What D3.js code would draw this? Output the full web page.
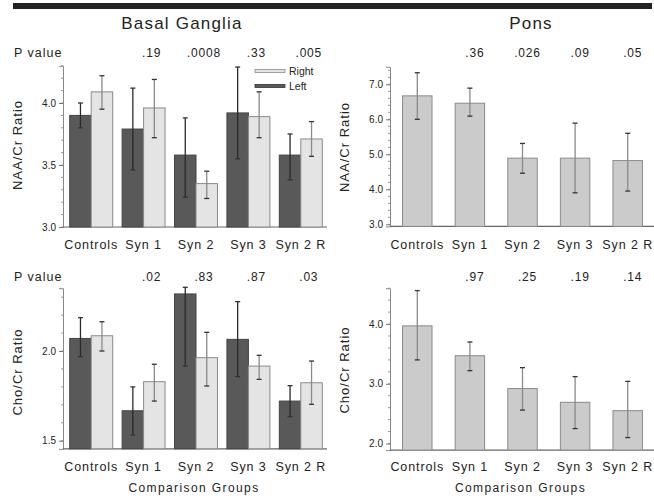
<!DOCTYPE html>
<html>
<head>
<meta charset="utf-8">
<script src="https://cdn.jsdelivr.net/npm/d3@7"></script>
<style>
  body { margin: 0; background: #fff; }
  svg text { font-family: "Liberation Sans", Arial, sans-serif; fill: #222; }
</style>
</head>
<body>
<div id="chart"></div>
<script>

var groups = ['Controls', 'Syn 1', 'Syn 2', 'Syn 3', 'Syn 2 R'];
var sides = ['Left', 'Right'];

// basal ganglia NAA/Cr  (left, right) with error ranges
var bgNaaLeft    = [3.90, 3.79, 3.58, 3.92, 3.58];
var bgNaaLeftLo  = [3.80, 3.46, 3.24, 3.55, 3.38];
var bgNaaLeftHi  = [4.00, 4.12, 3.88, 4.29, 3.75];
var bgNaaRight   = [4.09, 3.96, 3.35, 3.89, 3.71];
var bgNaaRightLo = [3.95, 3.72, 3.23, 3.72, 3.57];
var bgNaaRightHi = [4.22, 4.19, 3.45, 4.09, 3.85];
var bgNaaP = ['', '.19', '.0008', '.33', '.005'];

// basal ganglia Cho/Cr
var bgChoLeft    = [2.07, 1.667, 2.318, 2.065, 1.721];
var bgChoLeftLo  = [1.968, 1.532, 1.916, 1.857, 1.634];
var bgChoLeftHi  = [2.186, 1.80, 2.355, 2.275, 1.807];
var bgChoRight   = [2.085, 1.829, 1.963, 1.916, 1.823];
var bgChoRightLo = [2.00, 1.721, 1.805, 1.842, 1.703];
var bgChoRightHi = [2.163, 1.926, 2.104, 1.976, 1.944];
var bgChoP = ['', '.02', '.83', '.87', '.03'];

// pons NAA/Cr
var ponsNaa   = [6.67, 6.46, 4.89, 4.89, 4.82];
var ponsNaaLo = [6.00, 6.09, 4.46, 3.90, 3.95];
var ponsNaaHi = [7.33, 6.89, 5.31, 5.89, 5.60];
var ponsNaaP = ['', '.36', '.026', '.09', '.05'];

// pons Cho/Cr
var ponsCho   = [3.97, 3.47, 2.92, 2.69, 2.55];
var ponsChoLo = [3.40, 3.22, 2.56, 2.25, 2.10];
var ponsChoHi = [4.56, 3.70, 3.27, 3.12, 3.04];
var ponsChoP = ['', '.97', '.25', '.19', '.14'];

var bgNaaTicks = [3.0, 3.5, 4.0];
var bgChoTicks = [1.5, 2.0];
var ponsNaaTicks = [3.0, 4.0, 5.0, 6.0, 7.0];
var ponsChoTicks = [2.0, 3.0, 4.0];

var W = 654, H = 496;
var darkFill = '#595959', lightFill = '#e4e4e4', ponsFill = '#cbcbcb';

var svg = d3.select('#chart').append('svg')
    .attr('width', W).attr('height', H);

svg.append('rect').attr('x', 13).attr('y', 3).attr('width', 639).attr('height', 6)
    .attr('fill', '#222');

svg.append('text').attr('x', 182).attr('y', 29).attr('text-anchor', 'middle')
    .style('font-size', '17px').style('letter-spacing', '1.2px').text('Basal Ganglia');
svg.append('text').attr('x', 531).attr('y', 29).attr('text-anchor', 'middle')
    .style('font-size', '17px').style('letter-spacing', '1.2px').text('Pons');

function rows(vals, lo, hi) {
    return vals.map(function(v, i) { return {g: groups[i], v: v, lo: lo[i], hi: hi[i]}; });
}

var panels = [
  {axisX: 63, xr: [65, 327], dom: [3.0, 4.3], yr: [227, 65.8], ticks: bgNaaTicks, minor: 0.1,
   label: 'NAA/Cr Ratio', labelY: 145, pvals: bgNaaP, pY: 57, pOff: 8, showP: true,
   series: [rows(bgNaaLeft, bgNaaLeftLo, bgNaaLeftHi), rows(bgNaaRight, bgNaaRightLo, bgNaaRightHi)],
   xlabY: 249, legend: true},
  {axisX: 390, xr: [391, 654], dom: [2.94, 7.5], yr: [226.4, 66.8], ticks: ponsNaaTicks, minor: 0.2,
   label: 'NAA/Cr Ratio', labelY: 147, pvals: ponsNaaP, pY: 57, pOff: 5, showP: false,
   series: [rows(ponsNaa, ponsNaaLo, ponsNaaHi)], xlabY: 249},
  {axisX: 63, xr: [65, 327], dom: [1.455, 2.35], yr: [448.8, 288.2], ticks: bgChoTicks, minor: 0.1,
   label: 'Cho/Cr Ratio', labelY: 372, pvals: bgChoP, pY: 281, pOff: 8, showP: true,
   series: [rows(bgChoLeft, bgChoLeftLo, bgChoLeftHi), rows(bgChoRight, bgChoRightLo, bgChoRightHi)],
   xlabY: 471, xtitle: true},
  {axisX: 390, xr: [391, 654], dom: [1.89, 4.6], yr: [450.1, 288.2], ticks: ponsChoTicks, minor: 0.2,
   label: 'Cho/Cr Ratio', labelY: 370, pvals: ponsChoP, pY: 281, pOff: 5, showP: false,
   series: [rows(ponsCho, ponsChoLo, ponsChoHi)], xlabY: 471, xtitle: true}
];

panels.forEach(function(p) {
    var y = d3.scaleLinear().domain(p.dom).range(p.yr);
    var x = d3.scaleBand().domain(groups).range(p.xr);
    var g = svg.append('g');
    var two = p.series.length == 2;

    if (two) {
        x.paddingInner(0.18).paddingOuter(0.09);
    } else {
        x.paddingInner(0.44).paddingOuter(0.22);
    }
    var inner = d3.scaleBand().domain(two ? sides : ['one']).range([0, x.bandwidth()]);

    // minor ticks
    var minors = d3.range(Math.ceil(p.dom[0] / p.minor) * p.minor, p.dom[1] + 1e-9, p.minor);
    g.selectAll('.minor').data(minors).enter().append('line')
        .attr('x1', p.axisX - 2).attr('x2', p.axisX)
        .attr('y1', function(d) { return y(d); }).attr('y2', function(d) { return y(d); })
        .attr('stroke', '#999').attr('stroke-width', 1);

    var yAxis = g.append('g').attr('transform', 'translate(' + p.axisX + ',0)')
        .call(d3.axisLeft(y).tickValues(p.ticks).tickSize(4).tickFormat(d3.format('.1f')));
    yAxis.select('.domain').attr('stroke', '#888');
    yAxis.selectAll('.tick line').attr('stroke', '#777');
    yAxis.selectAll('.tick text').style('font-size', '10px').attr('fill', '#222');

    // baseline
    g.append('line').attr('x1', p.axisX).attr('x2', p.xr[1])
        .attr('y1', y(p.dom[0])).attr('y2', y(p.dom[0]))
        .attr('stroke', '#666').attr('stroke-width', 1.2);

    p.series.forEach(function(s, si) {
        var key = two ? sides[si] : 'one';
        var fill = two ? (si == 0 ? darkFill : lightFill) : ponsFill;
        var sg = g.append('g');
        sg.selectAll('rect').data(s).enter().append('rect')
            .attr('x', function(d) { return x(d.g) + inner(key); })
            .attr('width', inner.bandwidth())
            .attr('y', function(d) { return y(d.v); })
            .attr('height', function(d) { return y(p.dom[0]) - y(d.v); })
            .attr('fill', fill)
            .attr('stroke', two && si == 0 ? '#444' : '#8a8a8a').attr('stroke-width', 1);

        var errColor = two && si == 0 ? '#2a2a2a' : '#8a8a8a';
        var cx = function(d) { return x(d.g) + inner(key) + inner.bandwidth() / 2; };
        sg.selectAll('.err').data(s).enter().append('line')
            .attr('x1', cx).attr('x2', cx)
            .attr('y1', function(d) { return y(d.lo); }).attr('y2', function(d) { return y(d.hi); })
            .attr('stroke', errColor).attr('stroke-width', 1.3);
        ['lo', 'hi'].forEach(function(k) {
            sg.selectAll('.cap' + k).data(s).enter().append('line')
                .attr('x1', function(d) { return cx(d) - 2.5; }).attr('x2', function(d) { return cx(d) + 2.5; })
                .attr('y1', function(d) { return y(d[k]); }).attr('y2', function(d) { return y(d[k]); })
                .attr('stroke', '#333').attr('stroke-width', 1.3);
        });
    });

    // x labels
    g.selectAll('.xl').data(groups).enter().append('text')
        .attr('x', function(d) { return x(d) + x.bandwidth() / 2; })
        .attr('y', p.xlabY).attr('text-anchor', 'middle')
        .style('font-size', '12.5px').style('letter-spacing', '0.9px').text(function(d) { return d; });

    if (p.xtitle) {
        g.append('text').attr('x', (p.xr[0] + p.xr[1]) / 2 - 2).attr('y', 492)
            .attr('text-anchor', 'middle').style('font-size', '12px').style('letter-spacing', '1.4px')
            .text('Comparison Groups');
    }

    // y label
    var lx = p.axisX - 41;
    g.append('text').attr('transform', 'translate(' + lx + ',' + p.labelY + ') rotate(-90)')
        .attr('text-anchor', 'middle').style('font-size', '13px').style('letter-spacing', '1px')
        .text(p.label);

    // p values
    if (p.showP) {
        g.append('text').attr('x', 14).attr('y', p.pY).style('font-size', '12.5px')
            .style('letter-spacing', '1px').text('P value');
    }
    g.selectAll('.pv').data(groups).enter().append('text')
        .attr('x', function(d) { return x(d) + x.bandwidth() / 2 + p.pOff; })
        .attr('y', p.pY).attr('text-anchor', 'middle').style('font-size', '12px')
        .style('letter-spacing', '0.8px')
        .text(function(d, i) { return p.pvals[i]; });

    if (p.legend) {
        var leg = g.append('g').attr('transform', 'translate(255,71)');
        sides.slice().reverse().forEach(function(s, i) {
            leg.append('rect').attr('x', 0).attr('y', i * 15 - 1.5).attr('width', 30).attr('height', 3)
                .attr('fill', s == 'Left' ? darkFill : lightFill)
                .attr('stroke', s == 'Left' ? '#333' : '#888').attr('stroke-width', 0.8);
            leg.append('text').attr('x', 34).attr('y', i * 15 + 4).style('font-size', '10.5px').text(s);
        });
    }
});
</script>
</body>
</html>
